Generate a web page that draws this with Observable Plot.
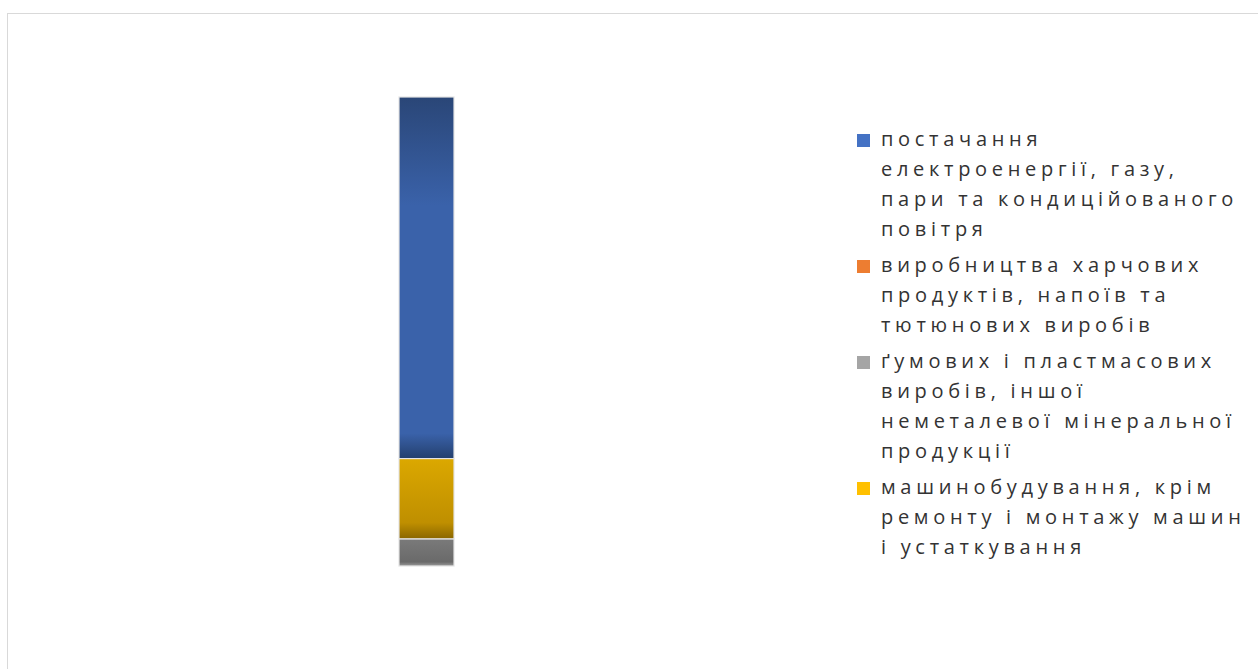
<!DOCTYPE html>
<html>
<head>
<meta charset="utf-8">
<script src="https://cdn.jsdelivr.net/npm/d3@7"></script>
<script src="https://cdn.jsdelivr.net/npm/@observablehq/plot@0.6"></script>
<style>
  html, body { margin: 0; padding: 0; background: #fff; }
  #wrap { position: relative; width: 1258px; height: 669px; overflow: hidden; }
  #frame { position: absolute; left: 7px; top: 13px; width: 1260px; height: 670px; border: 1px solid #d9d9d9; box-sizing: border-box; }
  #chart { position: absolute; left: 0; top: 0; }
  #legend { position: absolute; left: 857px; top: 124px; font-family: "Open Sans", sans-serif; font-size: 20px; color: #333; letter-spacing: 4.7px; white-space: nowrap; }
  .item { position: relative; padding-left: 24px; line-height: 30px; margin-bottom: 6px; }
  .sw { position: absolute; left: 0; top: 10px; width: 13px; height: 13px; }
</style>
</head>
<body>
<div id="wrap">
  <div id="frame"></div>
  <div id="chart"></div>
  <div id="legend"></div>
</div>
<script>
const categories = [
  "постачання електроенергії, газу, пари та кондиційованого повітря",
  "виробництва харчових продуктів, напоїв та тютюнових виробів",
  "ґумових і пластмасових виробів, іншої неметалевої мінеральної продукції",
  "машинобудування, крім ремонту і монтажу машин і устаткування"
];
const legendLines = [
  ["постачання", "електроенергії, газу,", "пари та кондиційованого", "повітря"],
  ["виробництва харчових", "продуктів, напоїв та", "тютюнових виробів"],
  ["ґумових і пластмасових", "виробів, іншої", "неметалевої мінеральної", "продукції"],
  ["машинобудування, крім", "ремонту і монтажу машин", "і устаткування"]
];
const values = [77.1, 0, 5.8, 17.1];
const colors = ["#4472c4", "#ed7d31", "#a5a5a5", "#ffc000"];
const fills = ["url(#gBlue)", "url(#gOrange)", "url(#gGray)", "url(#gGold)"];
// stacking order from bottom to top
const stackOrder = [categories[2], categories[1], categories[3], categories[0]];

const data = categories.map((c, i) => ({category: c, value: values[i], group: "all"}));

const plot = Plot.plot({
  width: 1258,
  height: 669,
  marginTop: 97,
  marginBottom: 103,
  marginLeft: 0,
  marginRight: 0,
  x: {domain: ["all"], range: [399, 454], padding: 0, axis: null},
  y: {axis: null, domain: [0, d3.sum(values)]},
  color: {domain: categories, range: fills},
  marks: [
    Plot.barY(data, Plot.stackY({
      x: "group",
      y: "value",
      z: "category",
      order: stackOrder,
      fill: "category",
      stroke: "#e4e4e4",
      strokeWidth: 1.2
    }))
  ]
});

const defs = `
<defs>
  <linearGradient id="gBlue" x1="0" y1="0" x2="0" y2="1">
    <stop offset="0" stop-color="#2a4677"/>
    <stop offset="0.3" stop-color="#3a62aa"/>
    <stop offset="0.93" stop-color="#3a62aa"/>
    <stop offset="1" stop-color="#24406e"/>
  </linearGradient>
  <linearGradient id="gGold" x1="0" y1="0" x2="0" y2="1">
    <stop offset="0" stop-color="#dba800"/>
    <stop offset="0.8" stop-color="#bf8f00"/>
    <stop offset="1" stop-color="#8a6700"/>
  </linearGradient>
  <linearGradient id="gGray" x1="0" y1="0" x2="0" y2="1">
    <stop offset="0" stop-color="#7a7a7a"/>
    <stop offset="0.85" stop-color="#6a6a6a"/>
    <stop offset="1" stop-color="#9a9a9a"/>
  </linearGradient>
  <linearGradient id="gOrange" x1="0" y1="0" x2="0" y2="1">
    <stop offset="0" stop-color="#ed7d31"/>
    <stop offset="1" stop-color="#b65c20"/>
  </linearGradient>
</defs>`;
plot.insertAdjacentHTML("afterbegin", defs);
plot.style.background = "transparent";
document.getElementById("chart").appendChild(plot);

const legend = document.getElementById("legend");
categories.forEach((c, i) => {
  const item = document.createElement("div");
  item.className = "item";
  item.innerHTML = `<span class="sw" style="background:${colors[i]}"></span>` + legendLines[i].join("<br>");
  legend.appendChild(item);
});
</script>
</body>
</html>
